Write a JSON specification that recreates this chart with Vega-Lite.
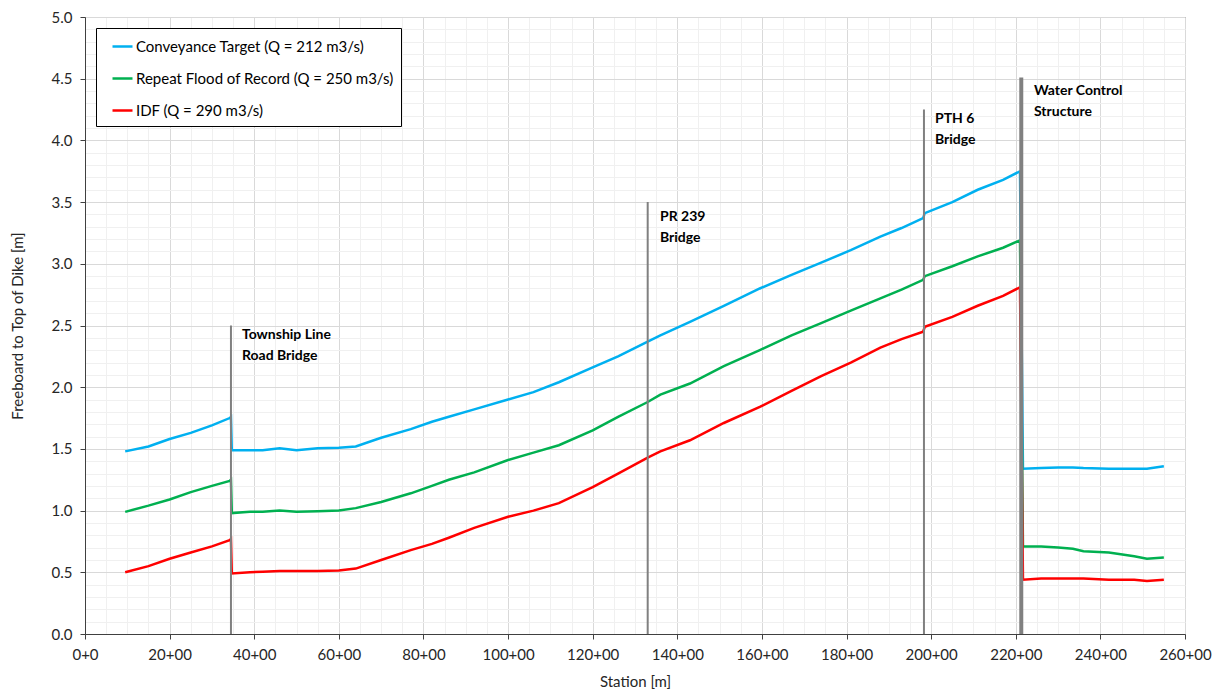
{
  "$schema": "https://vega.github.io/schema/vega-lite/v6.json",
  "width": 1100,
  "height": 617,
  "autosize": {"type": "none"},
  "padding": {"left": 85, "top": 17, "right": 40, "bottom": 60},
  "background": "white",
  "config": {
    "font": "Lato",
    "view": {"stroke": "#595959", "strokeWidth": 1},
    "axis": {"labelFont": "Lato", "titleFont": "Lato", "labelColor": "#262626", "titleColor": "#262626", "titleFontWeight": "normal"}
  },
  "datasets": {
    "profile": [
      {"station": 950, "conv": 1.48, "rfr": 0.99, "idf": 0.50},
      {"station": 1500, "conv": 1.52, "rfr": 1.04, "idf": 0.55},
      {"station": 2000, "conv": 1.58, "rfr": 1.09, "idf": 0.61},
      {"station": 2500, "conv": 1.63, "rfr": 1.15, "idf": 0.66},
      {"station": 3000, "conv": 1.69, "rfr": 1.20, "idf": 0.71},
      {"station": 3420, "conv": 1.75, "rfr": 1.24, "idf": 0.76},
      {"station": 3450, "conv": 1.76, "rfr": 1.25, "idf": 0.77},
      {"station": 3470, "conv": 1.49, "rfr": 0.98, "idf": 0.49},
      {"station": 3900, "conv": 1.49, "rfr": 0.99, "idf": 0.50},
      {"station": 4200, "conv": 1.49, "rfr": 0.99, "idf": 0.505},
      {"station": 4600, "conv": 1.505, "rfr": 1.00, "idf": 0.51},
      {"station": 5000, "conv": 1.49, "rfr": 0.99, "idf": 0.51},
      {"station": 5500, "conv": 1.505, "rfr": 0.995, "idf": 0.51},
      {"station": 6000, "conv": 1.51, "rfr": 1.00, "idf": 0.515},
      {"station": 6400, "conv": 1.52, "rfr": 1.02, "idf": 0.53},
      {"station": 7000, "conv": 1.59, "rfr": 1.07, "idf": 0.60},
      {"station": 7700, "conv": 1.66, "rfr": 1.14, "idf": 0.68},
      {"station": 8200, "conv": 1.72, "rfr": 1.20, "idf": 0.73},
      {"station": 8600, "conv": 1.76, "rfr": 1.25, "idf": 0.78},
      {"station": 9200, "conv": 1.82, "rfr": 1.31, "idf": 0.86},
      {"station": 10000, "conv": 1.90, "rfr": 1.41, "idf": 0.95},
      {"station": 10600, "conv": 1.96, "rfr": 1.47, "idf": 1.00},
      {"station": 11200, "conv": 2.04, "rfr": 1.53, "idf": 1.06},
      {"station": 12000, "conv": 2.16, "rfr": 1.65, "idf": 1.19},
      {"station": 12600, "conv": 2.25, "rfr": 1.76, "idf": 1.30},
      {"station": 13300, "conv": 2.37, "rfr": 1.88, "idf": 1.43},
      {"station": 13600, "conv": 2.42, "rfr": 1.94, "idf": 1.48},
      {"station": 14300, "conv": 2.53, "rfr": 2.03, "idf": 1.57},
      {"station": 15100, "conv": 2.66, "rfr": 2.17, "idf": 1.71},
      {"station": 15950, "conv": 2.80, "rfr": 2.30, "idf": 1.84},
      {"station": 16700, "conv": 2.91, "rfr": 2.42, "idf": 1.97},
      {"station": 17400, "conv": 3.01, "rfr": 2.52, "idf": 2.09},
      {"station": 18100, "conv": 3.11, "rfr": 2.62, "idf": 2.20},
      {"station": 18800, "conv": 3.22, "rfr": 2.72, "idf": 2.32},
      {"station": 19300, "conv": 3.29, "rfr": 2.79, "idf": 2.39},
      {"station": 19810, "conv": 3.37, "rfr": 2.87, "idf": 2.45},
      {"station": 19850, "conv": 3.41, "rfr": 2.90, "idf": 2.49},
      {"station": 20500, "conv": 3.50, "rfr": 2.98, "idf": 2.57},
      {"station": 21100, "conv": 3.60, "rfr": 3.06, "idf": 2.66},
      {"station": 21700, "conv": 3.68, "rfr": 3.13, "idf": 2.74},
      {"station": 22100, "conv": 3.75, "rfr": 3.19, "idf": 2.81},
      {"station": 22170, "conv": 1.34, "rfr": 0.71, "idf": 0.44},
      {"station": 22600, "conv": 1.345, "rfr": 0.71, "idf": 0.45},
      {"station": 23000, "conv": 1.35, "rfr": 0.70, "idf": 0.45},
      {"station": 23350, "conv": 1.35, "rfr": 0.69, "idf": 0.45},
      {"station": 23600, "conv": 1.345, "rfr": 0.67, "idf": 0.45},
      {"station": 24200, "conv": 1.34, "rfr": 0.66, "idf": 0.44},
      {"station": 24800, "conv": 1.34, "rfr": 0.63, "idf": 0.44},
      {"station": 25100, "conv": 1.34, "rfr": 0.61, "idf": 0.43},
      {"station": 25500, "conv": 1.36, "rfr": 0.62, "idf": 0.44}
    ],
    "bridges": [
      {"name": "Township Line\nRoad Bridge", "station": 3450, "base": 0, "top": 2.5, "lx": 3710, "ly": 2.48},
      {"name": "PR 239\nBridge", "station": 13300, "base": 0, "top": 3.5, "lx": 13590, "ly": 3.44},
      {"name": "PTH 6\nBridge", "station": 19830, "base": 0, "top": 4.25, "lx": 20090, "ly": 4.23},
      {"name": "Water Control\nStructure", "station": 22130, "base": 0, "top": 4.51, "lx": 22430, "ly": 4.46}
    ]
  },
  "encoding": {
    "x": {
      "type": "quantitative",
      "scale": {"domain": [0, 26000], "nice": false, "zero": false},
      "axis": {
        "title": "Station [m]",
        "titleFontSize": 15,
        "titlePadding": 12,
        "labelFontSize": 15,
        "labelPadding": 8,
        "labelFlush": false,
        "labelOverlap": false,
        "labelBound": false,
        "values": [0,500,1000,1500,2000,2500,3000,3500,4000,4500,5000,5500,6000,6500,7000,7500,8000,8500,9000,9500,10000,10500,11000,11500,12000,12500,13000,13500,14000,14500,15000,15500,16000,16500,17000,17500,18000,18500,19000,19500,20000,20500,21000,21500,22000,22500,23000,23500,24000,24500,25000,25500,26000],
        "labelExpr": "datum.value % 2000 === 0 ? (datum.value === 0 ? '0+0' : (datum.value / 100) + '+00') : ''",
        "grid": true,
        "gridColor": {"condition": {"test": "datum.value % 2000 === 0", "value": "#d9d9d9"}, "value": "#f0f0f0"},
        "tickSize": 5,
        "tickColor": "#404040",
        "tickOpacity": {"condition": {"test": "datum.value % 2000 === 0", "value": 1}, "value": 0},
        "domainColor": "#404040"
      }
    },
    "y": {
      "type": "quantitative",
      "scale": {"domain": [0, 5], "nice": false},
      "axis": {
        "title": "Freeboard to Top of Dike [m]",
        "titleFontSize": 15,
        "titlePadding": 26,
        "labelFontSize": 15,
        "labelPadding": 8,
        "labelOverlap": false,
        "labelBound": false,
        "labelFlush": false,
        "values": [0,0.1,0.2,0.3,0.4,0.5,0.6,0.7,0.8,0.9,1,1.1,1.2,1.3,1.4,1.5,1.6,1.7,1.8,1.9,2,2.1,2.2,2.3,2.4,2.5,2.6,2.7,2.8,2.9,3,3.1,3.2,3.3,3.4,3.5,3.6,3.7,3.8,3.9,4,4.1,4.2,4.3,4.4,4.5,4.6,4.7,4.8,4.9,5],
        "labelExpr": "abs(datum.value * 2 - round(datum.value * 2)) < 0.001 ? format(datum.value, '.1f') : ''",
        "grid": true,
        "gridColor": {"condition": {"test": "abs(datum.value * 2 - round(datum.value * 2)) < 0.001", "value": "#d9d9d9"}, "value": "#f0f0f0"},
        "tickSize": 5,
        "tickColor": "#404040",
        "tickOpacity": {"condition": {"test": "abs(datum.value * 2 - round(datum.value * 2)) < 0.001", "value": 1}, "value": 0},
        "domainColor": "#404040"
      }
    }
  },
  "layer": [
    {
      "data": {"name": "profile"},
      "transform": [{"fold": ["conv", "rfr", "idf"], "as": ["series", "fb"]}],
      "mark": {"type": "line", "strokeWidth": 2.5, "clip": true},
      "encoding": {
        "x": {"field": "station", "type": "quantitative"},
        "y": {"field": "fb", "type": "quantitative"},
        "color": {
          "field": "series",
          "type": "nominal",
          "scale": {"domain": ["conv", "rfr", "idf"], "range": ["#00B0F0", "#00B050", "#FF0000"]},
          "legend": {
            "title": null,
            "orient": "top-left",
            "offset": 11,
            "padding": 7,
            "fillColor": "white",
            "strokeColor": "#000000",
            "symbolType": "stroke",
            "symbolSize": 400,
            "symbolStrokeWidth": 2.5,
            "symbolOffset": 8,
            "labelFontSize": 15,
            "labelFont": "Lato",
            "labelColor": "#000000",
            "labelOffset": 2,
            "labelLimit": 400,
            "rowPadding": 12,
            "labelExpr": "datum.label === 'conv' ? 'Conveyance Target (Q = 212 m3/s)' : (datum.label === 'rfr' ? 'Repeat Flood of Record (Q = 250 m3/s)' : 'IDF (Q = 290 m3/s)')"
          }
        },
        "order": {"field": "station", "type": "quantitative"}
      }
    },
    {
      "data": {"name": "bridges"},
      "mark": {"type": "rule", "color": "#808080"},
      "encoding": {
        "x": {"field": "station", "type": "quantitative"},
        "y": {"field": "base", "type": "quantitative"},
        "y2": {"field": "top"},
        "strokeWidth": {"condition": {"test": "datum.station === 22130", "value": 4}, "value": 2}
      }
    },
    {
      "data": {"name": "bridges"},
      "mark": {"type": "text", "align": "left", "baseline": "top", "font": "Lato", "fontSize": 14, "fontWeight": "bold", "color": "#000000", "lineBreak": "\n", "lineHeight": 21},
      "encoding": {
        "x": {"field": "lx", "type": "quantitative"},
        "y": {"field": "ly", "type": "quantitative"},
        "text": {"field": "name"}
      }
    }
  ]
}
